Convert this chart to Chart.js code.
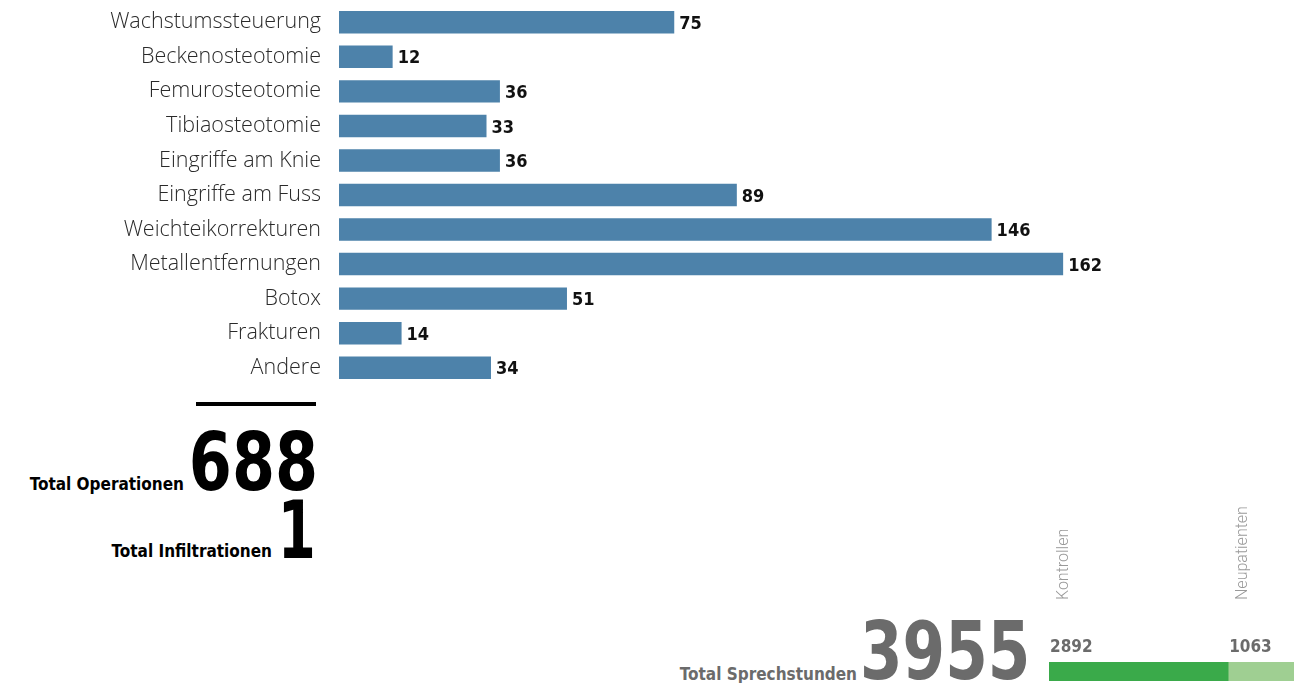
<!DOCTYPE html>
<html>
<head>
<meta charset="utf-8">
<script src="https://cdn.jsdelivr.net/npm/chart.js@4"></script>
<style>
  body { margin: 0; background: #fff; width: 1303px; height: 683px; overflow: hidden; position: relative; }
  #ops { position: absolute; left: 0; top: 0; }
  #sprech { position: absolute; left: 1040px; top: 500px; }
  .txt { position: absolute; white-space: nowrap; line-height: 1; font-family: 'DejaVu Sans Condensed', sans-serif; font-weight: bold; }
  .lbl { font-size: 17px; }
  .big { transform: scaleX(0.85); transform-origin: right center; }
  #strich { position: absolute; left: 196px; top: 402px; width: 120px; height: 4px; background: #000; }
</style>
</head>
<body>
<canvas id="ops" width="1303" height="390"></canvas>
<div id="strich"></div>
<span class="txt lbl" style="right:1119px; top:476px;">Total Operationen</span>
<span class="txt big" style="right:985px; top:422px; font-size:81px;">688</span>
<span class="txt lbl" style="right:1031px; top:543px;">Total Infiltrationen</span>
<span class="txt big" style="right:987px; top:490px; font-size:81px; transform:scaleX(0.75);">1</span>
<span class="txt lbl" style="right:446px; top:666px; color:#6b6b6b;">Total Sprechstunden</span>
<span class="txt big" style="right:273px; top:612px; font-size:80px; color:#6b6b6b;">3955</span>
<canvas id="sprech" width="263" height="183"></canvas>
<script>
// Operationen nach Art
const kategorien = ['Wachstumssteuerung', 'Beckenosteotomie', 'Femurosteotomie', 'Tibiaosteotomie',
  'Eingriffe am Knie', 'Eingriffe am Fuss', 'Weichteikorrekturen', 'Metallentfernungen',
  'Botox', 'Frakturen', 'Andere']
const anzahl = [75, 12, 36, 33, 36, 89, 146, 162, 51, 14, 34]

// Sprechstunden
const sprech_arten = ['Kontrollen', 'Neupatienten']
const sprech_werte = [2892, 1063]
const sprech_farben = ['#3aaa4a', '#9fcf92']

const zahlFont = "bold 18px 'DejaVu Sans Condensed', sans-serif"

// Werte rechts neben die Balken schreiben
const werteLabels = {
  id: 'werteLabels',
  afterDatasetsDraw(chart) {
    const ctx = chart.ctx
    const meta = chart.getDatasetMeta(0)
    ctx.save()
    ctx.font = zahlFont
    ctx.fillStyle = '#111'
    ctx.textBaseline = 'middle'
    meta.data.forEach((bar, i) => {
      ctx.fillText(chart.data.datasets[0].data[i], bar.x + 5, bar.y + 2)
    })
    ctx.restore()
  }
}

new Chart(document.getElementById('ops'), {
  type: 'bar',
  data: {
    labels: kategorien,
    datasets: [{
      data: anzahl,
      backgroundColor: '#4d82aa',
      categoryPercentage: 1,
      barPercentage: 0.65
    }]
  },
  options: {
    indexAxis: 'y',
    responsive: false,
    animation: false,
    layout: { padding: { top: 5, bottom: 5, right: 70 } },
    plugins: { legend: { display: false }, tooltip: { enabled: false } },
    scales: {
      x: { display: false, min: 0, max: 200 },
      y: {
        // feste Breite fuer die Beschriftung, kein Extra-Abstand oben/unten
        afterFit: (s) => { s.width = 339; s.paddingTop = 0; s.paddingBottom = 0 },
        grid: { display: false, drawTicks: false },
        border: { display: false },
        ticks: {
          padding: 18,
          color: '#2a2a2a',
          font: { family: 'Open Sans', weight: 300, size: 21.5 }
        }
      }
    }
  },
  plugins: [werteLabels]
})

// Beschriftung der Sprechstunden-Balken
const sprechLabels = {
  id: 'sprechLabels',
  afterDatasetsDraw(chart) {
    const ctx = chart.ctx
    ctx.save()
    chart.data.datasets.forEach((ds, i) => {
      const bar = chart.getDatasetMeta(i).data[0]
      const links = Math.min(bar.base, bar.x)
      ctx.font = "bold 17px 'DejaVu Sans Condensed', sans-serif"
      ctx.fillStyle = '#6b6b6b'
      ctx.textBaseline = 'alphabetic'
      ctx.fillText(ds.data[0], links + 1, bar.y - bar.height / 2 - 10)
      ctx.save()
      ctx.translate(links + 19, 100)
      ctx.rotate(-Math.PI / 2)
      ctx.font = "300 16px Roboto"
      ctx.fillStyle = '#999'
      ctx.fillText(ds.label, 0, 0)
      ctx.restore()
    })
    ctx.restore()
  }
}

new Chart(document.getElementById('sprech'), {
  type: 'bar',
  data: {
    labels: ['Sprechstunden'],
    datasets: sprech_arten.map((name, i) => ({
      label: name,
      data: [sprech_werte[i]],
      backgroundColor: sprech_farben[i],
      categoryPercentage: 1,
      barPercentage: 1
    }))
  },
  options: {
    indexAxis: 'y',
    responsive: false,
    animation: false,
    layout: { padding: { top: 162, bottom: 2, left: 9, right: 9 } },
    plugins: { legend: { display: false }, tooltip: { enabled: false } },
    scales: {
      x: { display: false, stacked: true, min: 0, max: 3955 },
      y: { display: false, stacked: true }
    }
  },
  plugins: [sprechLabels]
})
</script>
</body>
</html>
